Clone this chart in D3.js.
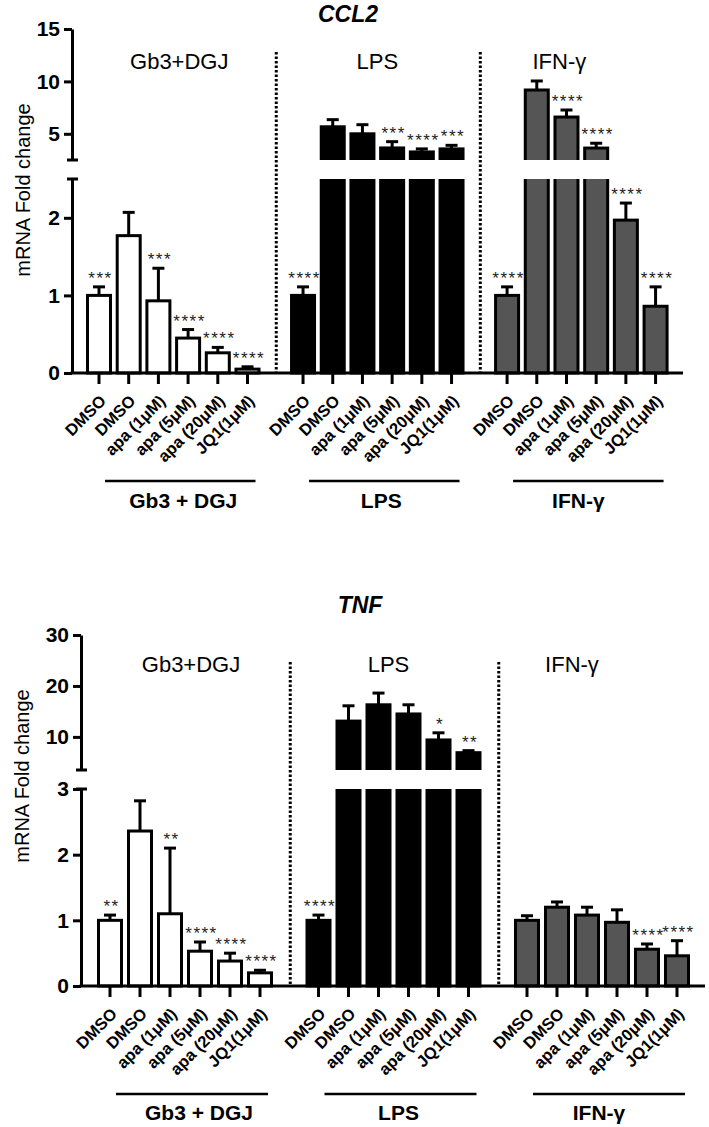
<!DOCTYPE html>
<html><head><meta charset="utf-8">
<script src="https://cdn.jsdelivr.net/npm/d3@7"></script>
<style>body{margin:0;background:#fff} svg{display:block}</style>
</head><body><svg id="c" width="709" height="1127"></svg>
<script>
// ---------- DATA ----------
const categories = ["DMSO","DMSO","apa (1μM)","apa (5μM)","apa (20μM)","JQ1(1μM)"];
const groupTitles = ["Gb3+DGJ","LPS","IFN-γ"];
const groupBrackets = ["Gb3 + DGJ","LPS","IFN-γ"];
const groupFills = ["#ffffff","#000000","#555555"];

// CCL2
const ccl2Gb3 = [1.00, 1.77, 0.93, 0.45, 0.26, 0.05];
const ccl2Gb3Err = [0.11, 0.30, 0.42, 0.11, 0.07, 0.03];
const ccl2Gb3Stars = ["***", "", "***", "****", "****", "****"];
const ccl2Lps = [1.00, 5.67, 5.00, 3.65, 3.27, 3.56];
const ccl2LpsErr = [0.11, 0.68, 0.87, 0.60, 0.29, 0.34];
const ccl2LpsStars = ["****", "", "", "***", "****", "***"];
const ccl2Ifn = [1.00, 9.18, 6.60, 3.64, 1.97, 0.86];
const ccl2IfnErr = [0.11, 0.86, 0.67, 0.46, 0.22, 0.25];
const ccl2IfnStars = ["****", "", "****", "****", "****", "****"];
const ccl2LowerTicks = [0, 1, 2];
const ccl2UpperTicks = [5, 10, 15];

// TNF
const tnfGb3 = [1.00, 2.36, 1.10, 0.53, 0.38, 0.20];
const tnfGb3Err = [0.08, 0.46, 1.00, 0.14, 0.12, 0.04];
const tnfGb3Stars = ["**", "", "**", "****", "****", "****"];
const tnfLps = [1.00, 13.1, 16.3, 14.5, 9.4, 6.9];
const tnfLpsErr = [0.08, 3.0, 2.3, 1.8, 1.4, 0.4];
const tnfLpsStars = ["****", "", "", "", "*", "**"];
const tnfIfn = [1.00, 1.20, 1.08, 0.97, 0.56, 0.46];
const tnfIfnErr = [0.07, 0.08, 0.12, 0.19, 0.08, 0.23];
const tnfIfnStars = ["", "", "", "", "****", "****"];
const tnfLowerTicks = [0, 1, 2, 3];
const tnfUpperTicks = [10, 20, 30];

// ---------- CHART SETUP ----------
const charts = [
  { title: "CCL2",
    means: [ccl2Gb3, ccl2Lps, ccl2Ifn], errs: [ccl2Gb3Err, ccl2LpsErr, ccl2IfnErr],
    stars: [ccl2Gb3Stars, ccl2LpsStars, ccl2IfnStars],
    lowerDomain: [0, 2.5], upperDomain: [2.5, 15],
    lowerTicks: ccl2LowerTicks, upperTicks: ccl2UpperTicks,
    L: { axisX: 72, baseY: 373, lowerTopY: 179, upperBottomY: 160, upperTopY: 29,
         x0: 99, step: 29.7, groupSlots: 6.87, axisEnd: 683, sepTop: 52,
         titleX: 348, titleY: 22, groupLabelY: 69, groupLabelDx: [6, 0, -22],
         yTitleX: 23, yTitleY: 190, bracketY: 481, bracketLabelY: 508, bracketLabelDx: [10, 4, -3] } },
  { title: "TNF",
    means: [tnfGb3, tnfLps, tnfIfn], errs: [tnfGb3Err, tnfLpsErr, tnfIfnErr],
    stars: [tnfGb3Stars, tnfLpsStars, tnfIfnStars],
    lowerDomain: [0, 3], upperDomain: [3.5, 30],
    lowerTicks: tnfLowerTicks, upperTicks: tnfUpperTicks,
    L: { axisX: 81, baseY: 986, lowerTopY: 789, upperBottomY: 770, upperTopY: 635,
         x0: 110, step: 30, groupSlots: 6.95, axisEnd: 705, sepTop: 662,
         titleX: 360, titleY: 613, groupLabelY: 672, groupLabelDx: [6, -5, -30],
         yTitleX: 22, yTitleY: 776, bracketY: 1094, bracketLabelY: 1120, bracketLabelDx: [14, 5, -3] } }
];

const FONT = "'Liberation Sans', Arial, Helvetica, sans-serif";
const svg = d3.select("#c");
const defs = svg.append("defs");

charts.forEach((ch, ci) => {
  const L = ch.L;
  const g = svg.append("g").attr("font-family", FONT);
  const yLow = d3.scaleLinear().domain(ch.lowerDomain).range([L.baseY, L.lowerTopY]);
  const yUp = d3.scaleLinear().domain(ch.upperDomain).range([L.upperBottomY, L.upperTopY]);
  const x = d3.scaleLinear().domain([0, 1]).range([L.x0, L.x0 + L.step]);
  const lowMax = ch.lowerDomain[1], upMin = ch.upperDomain[0];

  const idLow = "clipLow" + ci, idUp = "clipUp" + ci;
  defs.append("clipPath").attr("id", idLow).append("rect")
    .attr("x", 0).attr("y", L.lowerTopY).attr("width", 709).attr("height", L.baseY - L.lowerTopY + 10);
  defs.append("clipPath").attr("id", idUp).append("rect")
    .attr("x", 0).attr("y", 0).attr("width", 709).attr("height", L.upperBottomY);

  const rows = [];
  ch.means.forEach((arr, gi) => arr.forEach((v, i) => rows.push({
    gi, i, v, e: ch.errs[gi][i], s: ch.stars[gi][i], cat: categories[i],
    cx: x(gi * L.groupSlots + i)
  })));
  const sc = d => d.v > lowMax ? yUp : yLow;

  const bw = 23;
  // lower segment bars
  g.append("g").attr("clip-path", `url(#${idLow})`)
    .selectAll("rect").data(rows).join("rect")
    .attr("x", d => d.cx - bw / 2)
    .attr("y", d => d.v > lowMax ? L.lowerTopY - 6 : yLow(d.v))
    .attr("width", bw)
    .attr("height", d => L.baseY - (d.v > lowMax ? L.lowerTopY - 6 : yLow(d.v)))
    .attr("fill", d => groupFills[d.gi]).attr("stroke", "#000").attr("stroke-width", 3);
  // upper segment bars
  g.append("g").attr("clip-path", `url(#${idUp})`)
    .selectAll("rect").data(rows.filter(d => d.v > upMin)).join("rect")
    .attr("x", d => d.cx - bw / 2)
    .attr("y", d => yUp(d.v))
    .attr("width", bw)
    .attr("height", d => L.upperBottomY + 6 - yUp(d.v))
    .attr("fill", d => groupFills[d.gi]).attr("stroke", "#000").attr("stroke-width", 3);

  // error bars
  const eg = g.append("g").attr("stroke", "#000").attr("stroke-width", 3);
  eg.selectAll("line.v").data(rows).join("line").attr("class", "v")
    .attr("x1", d => d.cx).attr("x2", d => d.cx)
    .attr("y1", d => sc(d)(d.v)).attr("y2", d => sc(d)(d.v + d.e));
  eg.selectAll("line.c").data(rows).join("line").attr("class", "c")
    .attr("x1", d => d.cx - 6).attr("x2", d => d.cx + 6)
    .attr("y1", d => sc(d)(d.v + d.e)).attr("y2", d => sc(d)(d.v + d.e));

  // significance stars
  g.append("g").selectAll("text").data(rows.filter(d => d.s)).join("text")
    .attr("x", d => d.cx + 1.5).attr("y", d => sc(d)(d.v + d.e) - 3)
    .attr("text-anchor", "middle").attr("font-size", 17).attr("letter-spacing", 1.5)
    .attr("fill", "#222").text(d => d.s);

  // y axes
  const styleAxis = sel => {
    sel.select(".domain").attr("stroke-width", 3);
    sel.selectAll(".tick line").attr("stroke-width", 3);
    sel.selectAll(".tick text").attr("font-size", 21).attr("font-weight", "bold")
      .attr("font-family", FONT).attr("fill", "#000");
  };
  g.append("g").attr("transform", `translate(${L.axisX},0)`)
    .call(d3.axisLeft(yLow).tickValues(ch.lowerTicks).tickSize(8).tickSizeOuter(0).tickPadding(4).tickFormat(d3.format("d")))
    .call(styleAxis);
  g.append("g").attr("transform", `translate(${L.axisX},0)`)
    .call(d3.axisLeft(yUp).tickValues(ch.upperTicks).tickSize(8).tickSizeOuter(0).tickPadding(4).tickFormat(d3.format("d")))
    .call(styleAxis);
  // break marks
  g.append("g").attr("stroke", "#000").attr("stroke-width", 3)
    .selectAll("line").data([L.lowerTopY, L.upperBottomY]).join("line")
    .attr("x1", L.axisX - 5).attr("x2", L.axisX + 6).attr("y1", d => d).attr("y2", d => d);

  // x axis
  g.append("line").attr("x1", L.axisX - 1.5).attr("x2", L.axisEnd)
    .attr("y1", L.baseY).attr("y2", L.baseY).attr("stroke", "#000").attr("stroke-width", 3);
  g.append("g").selectAll("line").data(rows).join("line")
    .attr("x1", d => d.cx).attr("x2", d => d.cx)
    .attr("y1", L.baseY).attr("y2", L.baseY + 11)
    .attr("stroke", "#000").attr("stroke-width", 3);
  g.append("g").selectAll("text").data(rows).join("text")
    .attr("transform", d => `translate(${d.cx + 8},${L.baseY + 29}) rotate(-45)`)
    .attr("text-anchor", "end").attr("font-size", 16.5).attr("font-weight", "bold")
    .text(d => d.cat);

  // separators
  const seps = [0, 1].map(gi => (x(gi * L.groupSlots + 5) + x((gi + 1) * L.groupSlots)) / 2);
  g.append("g").selectAll("line").data(seps).join("line")
    .attr("x1", d => d + 1).attr("x2", d => d + 1)
    .attr("y1", L.sepTop).attr("y2", L.baseY - 1)
    .attr("stroke", "#000").attr("stroke-width", 3).attr("stroke-dasharray", "2.5,2");

  // group labels at top and brackets at bottom
  const gcenters = [0, 1, 2].map(gi => (x(gi * L.groupSlots) + x(gi * L.groupSlots + 5)) / 2);
  g.append("g").selectAll("text").data(groupTitles).join("text")
    .attr("x", (d, i) => gcenters[i] + L.groupLabelDx[i]).attr("y", L.groupLabelY)
    .attr("text-anchor", "middle").attr("font-size", 22).text(d => d);
  g.append("g").selectAll("line").data(groupBrackets).join("line")
    .attr("x1", (d, i) => x(i * L.groupSlots) + 6).attr("x2", (d, i) => x(i * L.groupSlots + 5) + 8)
    .attr("y1", L.bracketY).attr("y2", L.bracketY)
    .attr("stroke", "#000").attr("stroke-width", 2.5);
  g.append("g").selectAll("text").data(groupBrackets).join("text")
    .attr("x", (d, i) => gcenters[i] + L.bracketLabelDx[i]).attr("y", L.bracketLabelY)
    .attr("text-anchor", "middle").attr("font-size", 21).attr("font-weight", "bold").text(d => d);

  // title
  g.append("text").attr("x", L.titleX).attr("y", L.titleY).attr("text-anchor", "middle")
    .attr("font-size", 23).attr("font-weight", "bold").attr("font-style", "italic").text(ch.title);
  // y title
  g.append("text").attr("transform", `translate(${L.yTitleX + 7},${L.yTitleY}) rotate(-90)`)
    .attr("text-anchor", "middle").attr("font-size", 20).text("mRNA Fold change");
});
</script>
</body></html>
